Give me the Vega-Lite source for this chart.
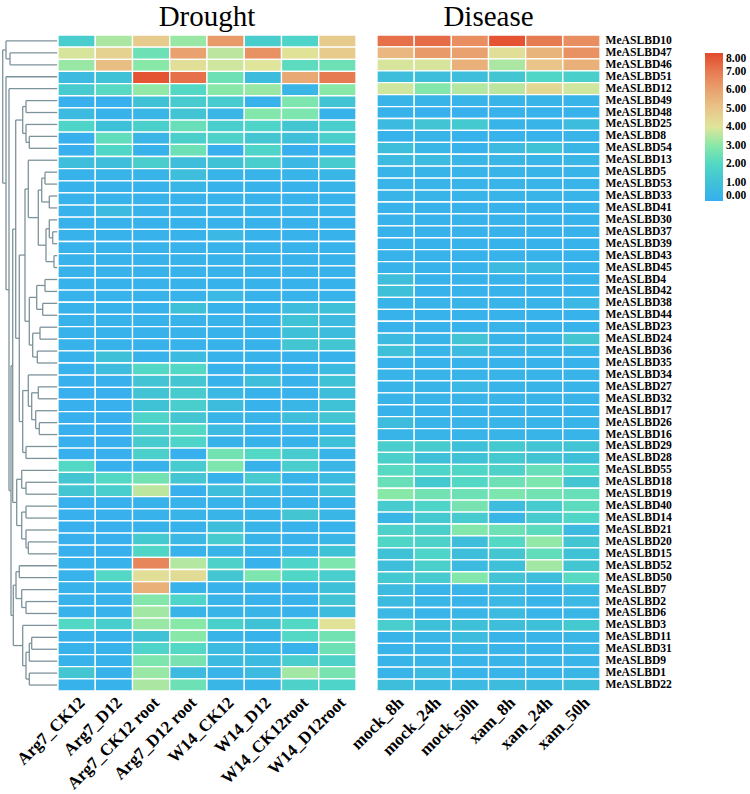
{
 "$schema": "https://vega.github.io/schema/vega-lite/v6.json",
 "padding": {"left": 0, "top": 3, "right": 0, "bottom": 0},
 "background": "white",
 "config": {
  "view": {"stroke": null},
  "font": "Liberation Serif",
  "title": {"font": "Liberation Serif", "fontSize": 29, "fontWeight": "normal", "color": "#000000", "offset": 2},
  "axis": {"labelFont": "Liberation Serif", "labelFontWeight": "bold", "labelColor": "#000000", "ticks": false, "domain": false, "grid": false, "title": null},
  "legend": {"labelFont": "Liberation Serif", "labelFontWeight": "bold", "labelColor": "#000000"}
 },
 "datasets": {
  "tree": [
   {"x":10,"x2":57.5,"y":1,"y2":1},{"x":10,"x2":57.5,"y":2,"y2":2},{"x":10,"x2":10,"y":1,"y2":2},
   {"x":6,"x2":57.5,"y":0,"y2":0},{"x":6,"x2":10,"y":1.5,"y2":1.5},{"x":6,"x2":6,"y":0,"y2":1.5},
   {"x":26,"x2":57.5,"y":5,"y2":5},{"x":26,"x2":57.5,"y":6,"y2":6},{"x":26,"x2":26,"y":5,"y2":6},
   {"x":29.3,"x2":57.5,"y":8,"y2":8},{"x":29.3,"x2":57.5,"y":9,"y2":9},{"x":29.3,"x2":29.3,"y":8,"y2":9},
   {"x":26,"x2":57.5,"y":7,"y2":7},{"x":26,"x2":29.3,"y":8.5,"y2":8.5},{"x":26,"x2":26,"y":7,"y2":8.5},
   {"x":22.7,"x2":26,"y":5.5,"y2":5.5},{"x":22.7,"x2":26,"y":7.75,"y2":7.75},{"x":22.7,"x2":22.7,"y":5.5,"y2":7.75},
   {"x":45,"x2":57.5,"y":11,"y2":11},{"x":45,"x2":57.5,"y":12,"y2":12},{"x":45,"x2":45,"y":11,"y2":12},
   {"x":49.3,"x2":57.5,"y":13,"y2":13},{"x":49.3,"x2":57.5,"y":14,"y2":14},{"x":49.3,"x2":49.3,"y":13,"y2":14},
   {"x":41.7,"x2":45,"y":11.5,"y2":11.5},{"x":41.7,"x2":49.3,"y":13.5,"y2":13.5},{"x":41.7,"x2":41.7,"y":11.5,"y2":13.5},
   {"x":52.7,"x2":57.5,"y":16,"y2":16},{"x":52.7,"x2":57.5,"y":17,"y2":17},{"x":52.7,"x2":52.7,"y":16,"y2":17},
   {"x":49.3,"x2":57.5,"y":15,"y2":15},{"x":49.3,"x2":52.7,"y":16.5,"y2":16.5},{"x":49.3,"x2":49.3,"y":15,"y2":16.5},
   {"x":54,"x2":57.5,"y":18,"y2":18},{"x":54,"x2":57.5,"y":19,"y2":19},{"x":54,"x2":54,"y":18,"y2":19},
   {"x":46,"x2":49.3,"y":15.75,"y2":15.75},{"x":46,"x2":54,"y":18.5,"y2":18.5},{"x":46,"x2":46,"y":15.75,"y2":18.5},
   {"x":38.3,"x2":41.7,"y":12.5,"y2":12.5},{"x":38.3,"x2":46,"y":17.125,"y2":17.125},{"x":38.3,"x2":38.3,"y":12.5,"y2":17.125},
   {"x":28.3,"x2":57.5,"y":10,"y2":10},{"x":28.3,"x2":38.3,"y":14.81,"y2":14.81},{"x":28.3,"x2":28.3,"y":10,"y2":14.81},
   {"x":45,"x2":57.5,"y":20,"y2":20},{"x":45,"x2":57.5,"y":21,"y2":21},{"x":45,"x2":45,"y":20,"y2":21},
   {"x":42.7,"x2":57.5,"y":22,"y2":22},{"x":42.7,"x2":57.5,"y":23,"y2":23},{"x":42.7,"x2":42.7,"y":22,"y2":23},
   {"x":36.7,"x2":45,"y":20.5,"y2":20.5},{"x":36.7,"x2":42.7,"y":22.5,"y2":22.5},{"x":36.7,"x2":36.7,"y":20.5,"y2":22.5},
   {"x":40,"x2":57.5,"y":24,"y2":24},{"x":40,"x2":57.5,"y":25,"y2":25},{"x":40,"x2":40,"y":24,"y2":25},
   {"x":37.3,"x2":57.5,"y":26,"y2":26},{"x":37.3,"x2":57.5,"y":27,"y2":27},{"x":37.3,"x2":37.3,"y":26,"y2":27},
   {"x":32.7,"x2":40,"y":24.5,"y2":24.5},{"x":32.7,"x2":37.3,"y":26.5,"y2":26.5},{"x":32.7,"x2":32.7,"y":24.5,"y2":26.5},
   {"x":29.3,"x2":36.7,"y":21.5,"y2":21.5},{"x":29.3,"x2":32.7,"y":25.5,"y2":25.5},{"x":29.3,"x2":29.3,"y":21.5,"y2":25.5},
   {"x":25,"x2":28.3,"y":12.41,"y2":12.41},{"x":25,"x2":29.3,"y":23.5,"y2":23.5},{"x":25,"x2":25,"y":12.41,"y2":23.5},
   {"x":38.3,"x2":57.5,"y":29,"y2":29},{"x":38.3,"x2":57.5,"y":30,"y2":30},{"x":38.3,"x2":38.3,"y":29,"y2":30},
   {"x":39.3,"x2":57.5,"y":32,"y2":32},{"x":39.3,"x2":57.5,"y":33,"y2":33},{"x":39.3,"x2":39.3,"y":32,"y2":33},
   {"x":35.7,"x2":57.5,"y":31,"y2":31},{"x":35.7,"x2":39.3,"y":32.5,"y2":32.5},{"x":35.7,"x2":35.7,"y":31,"y2":32.5},
   {"x":31.7,"x2":38.3,"y":29.5,"y2":29.5},{"x":31.7,"x2":35.7,"y":31.75,"y2":31.75},{"x":31.7,"x2":31.7,"y":29.5,"y2":31.75},
   {"x":28.3,"x2":57.5,"y":28,"y2":28},{"x":28.3,"x2":31.7,"y":30.63,"y2":30.63},{"x":28.3,"x2":28.3,"y":28,"y2":30.63},
   {"x":26,"x2":57.5,"y":34,"y2":34},{"x":26,"x2":57.5,"y":35,"y2":35},{"x":26,"x2":26,"y":34,"y2":35},
   {"x":22.7,"x2":28.3,"y":29.31,"y2":29.31},{"x":22.7,"x2":26,"y":34.5,"y2":34.5},{"x":22.7,"x2":22.7,"y":29.31,"y2":34.5},
   {"x":19.3,"x2":25,"y":17.95,"y2":17.95},{"x":19.3,"x2":22.7,"y":31.91,"y2":31.91},{"x":19.3,"x2":19.3,"y":17.95,"y2":31.91},
   {"x":15.7,"x2":22.7,"y":6.63,"y2":6.63},{"x":15.7,"x2":19.3,"y":24.93,"y2":24.93},{"x":15.7,"x2":15.7,"y":6.63,"y2":24.93},
   {"x":26,"x2":57.5,"y":37,"y2":37},{"x":26,"x2":57.5,"y":38,"y2":38},{"x":26,"x2":26,"y":37,"y2":38},
   {"x":21.7,"x2":57.5,"y":36,"y2":36},{"x":21.7,"x2":26,"y":37.5,"y2":37.5},{"x":21.7,"x2":21.7,"y":36,"y2":37.5},
   {"x":26,"x2":57.5,"y":39,"y2":39},{"x":26,"x2":57.5,"y":40,"y2":40},{"x":26,"x2":26,"y":39,"y2":40},
   {"x":28.3,"x2":57.5,"y":42,"y2":42},{"x":28.3,"x2":57.5,"y":43,"y2":43},{"x":28.3,"x2":28.3,"y":42,"y2":43},
   {"x":26,"x2":57.5,"y":41,"y2":41},{"x":26,"x2":28.3,"y":42.5,"y2":42.5},{"x":26,"x2":26,"y":41,"y2":42.5},
   {"x":21.7,"x2":26,"y":39.5,"y2":39.5},{"x":21.7,"x2":26,"y":41.75,"y2":41.75},{"x":21.7,"x2":21.7,"y":39.5,"y2":41.75},
   {"x":16.7,"x2":21.7,"y":36.75,"y2":36.75},{"x":16.7,"x2":21.7,"y":40.63,"y2":40.63},{"x":16.7,"x2":16.7,"y":36.75,"y2":40.63},
   {"x":12.7,"x2":15.7,"y":15.78,"y2":15.78},{"x":12.7,"x2":16.7,"y":38.69,"y2":38.69},{"x":12.7,"x2":12.7,"y":15.78,"y2":38.69},
   {"x":19.3,"x2":57.5,"y":44,"y2":44},{"x":19.3,"x2":57.5,"y":45,"y2":45},{"x":19.3,"x2":19.3,"y":44,"y2":45},
   {"x":26,"x2":57.5,"y":47,"y2":47},{"x":26,"x2":57.5,"y":48,"y2":48},{"x":26,"x2":26,"y":47,"y2":48},
   {"x":21.7,"x2":57.5,"y":46,"y2":46},{"x":21.7,"x2":26,"y":47.5,"y2":47.5},{"x":21.7,"x2":21.7,"y":46,"y2":47.5},
   {"x":16,"x2":19.3,"y":44.5,"y2":44.5},{"x":16,"x2":21.7,"y":46.75,"y2":46.75},{"x":16,"x2":16,"y":44.5,"y2":46.75},
   {"x":31.7,"x2":57.5,"y":50,"y2":50},{"x":31.7,"x2":57.5,"y":51,"y2":51},{"x":31.7,"x2":31.7,"y":50,"y2":51},
   {"x":29.3,"x2":31.7,"y":50.5,"y2":50.5},{"x":29.3,"x2":57.5,"y":52,"y2":52},{"x":29.3,"x2":29.3,"y":50.5,"y2":52},
   {"x":29.3,"x2":57.5,"y":53,"y2":53},{"x":29.3,"x2":57.5,"y":54,"y2":54},{"x":29.3,"x2":29.3,"y":53,"y2":54},
   {"x":26,"x2":29.3,"y":51.25,"y2":51.25},{"x":26,"x2":29.3,"y":53.5,"y2":53.5},{"x":26,"x2":26,"y":51.25,"y2":53.5},
   {"x":22.7,"x2":57.5,"y":49,"y2":49},{"x":22.7,"x2":26,"y":52.38,"y2":52.38},{"x":22.7,"x2":22.7,"y":49,"y2":52.38},
   {"x":13.3,"x2":16,"y":45.63,"y2":45.63},{"x":13.3,"x2":22.7,"y":50.69,"y2":50.69},{"x":13.3,"x2":13.3,"y":45.63,"y2":50.69},
   {"x":11,"x2":12.7,"y":27.23,"y2":27.23},{"x":11,"x2":13.3,"y":48.16,"y2":48.16},{"x":11,"x2":11,"y":27.23,"y2":48.16},
   {"x":9,"x2":57.5,"y":4,"y2":4},{"x":9,"x2":11,"y":37.7,"y2":37.7},{"x":9,"x2":9,"y":4,"y2":37.7},
   {"x":6,"x2":57.5,"y":3,"y2":3},{"x":6,"x2":9,"y":20.85,"y2":20.85},{"x":6,"x2":6,"y":3,"y2":20.85},
   {"x":2.7,"x2":6,"y":0.75,"y2":0.75},{"x":2.7,"x2":6,"y":11.92,"y2":11.92},{"x":2.7,"x2":2.7,"y":0.75,"y2":11.92}
  ],
  "expr": [
   {"g":"MeASLBD10","Arg7_CK12":1.5,"Arg7_D12":3.4,"Arg7_CK12 root":4.8,"Arg7_D12 root":3.2,"W14_CK12":6.2,"W14_D12":1.5,"W14_CK12root":1.8,"W14_D12root":4.8,"mock_8h":7.2,"mock_24h":7.3,"mock_50h":6.5,"xam_8h":7.8,"xam_24h":7.0,"xam_50h":6.5},
   {"g":"MeASLBD47","Arg7_CK12":3.9,"Arg7_D12":4.6,"Arg7_CK12 root":2.5,"Arg7_D12 root":6.0,"W14_CK12":3.6,"W14_D12":6.4,"W14_CK12root":4.1,"W14_D12root":4.8,"mock_8h":5.4,"mock_24h":6.2,"mock_50h":6.0,"xam_8h":4.2,"xam_24h":5.5,"xam_50h":6.4},
   {"g":"MeASLBD46","Arg7_CK12":3.2,"Arg7_D12":5.2,"Arg7_CK12 root":3.0,"Arg7_D12 root":4.2,"W14_CK12":3.8,"W14_D12":4.0,"W14_CK12root":2.2,"W14_D12root":2.5,"mock_8h":3.9,"mock_24h":3.9,"mock_50h":5.6,"xam_8h":3.4,"xam_24h":5.0,"xam_50h":5.6},
   {"g":"MeASLBD51","Arg7_CK12":0.6,"Arg7_D12":1.0,"Arg7_CK12 root":7.8,"Arg7_D12 root":7.2,"W14_CK12":2.5,"W14_D12":0.7,"W14_CK12root":5.8,"W14_D12root":7.0,"mock_8h":0.8,"mock_24h":0.8,"mock_50h":0.8,"xam_8h":1.2,"xam_24h":1.9,"xam_50h":1.6},
   {"g":"MeASLBD12","Arg7_CK12":1.4,"Arg7_D12":2.1,"Arg7_CK12 root":3.1,"Arg7_D12 root":2.0,"W14_CK12":3.0,"W14_D12":3.2,"W14_CK12root":0.4,"W14_D12root":3.0,"mock_8h":3.8,"mock_24h":2.9,"mock_50h":3.5,"xam_8h":3.6,"xam_24h":4.4,"xam_50h":3.8},
   {"g":"MeASLBD49","Arg7_CK12":0.1,"Arg7_D12":0.1,"Arg7_CK12 root":1.0,"Arg7_D12 root":1.4,"W14_CK12":1.4,"W14_D12":0.2,"W14_CK12root":2.8,"W14_D12root":1.1,"mock_8h":0.3,"mock_24h":0.3,"mock_50h":0.3,"xam_8h":0.3,"xam_24h":0.3,"xam_50h":0.3},
   {"g":"MeASLBD48","Arg7_CK12":0.6,"Arg7_D12":0.2,"Arg7_CK12 root":0.4,"Arg7_D12 root":1.1,"W14_CK12":0.4,"W14_D12":2.9,"W14_CK12root":2.8,"W14_D12root":0.2,"mock_8h":0.2,"mock_24h":0.1,"mock_50h":0.1,"xam_8h":0.2,"xam_24h":0.2,"xam_50h":0.2},
   {"g":"MeASLBD25","Arg7_CK12":1.8,"Arg7_D12":0.9,"Arg7_CK12 root":1.6,"Arg7_D12 root":2.4,"W14_CK12":1.5,"W14_D12":1.8,"W14_CK12root":1.2,"W14_D12root":1.5,"mock_8h":0.6,"mock_24h":1.1,"mock_50h":1.3,"xam_8h":0.3,"xam_24h":0.3,"xam_50h":0.7},
   {"g":"MeASLBD8","Arg7_CK12":0.1,"Arg7_D12":2.3,"Arg7_CK12 root":0.4,"Arg7_D12 root":1.6,"W14_CK12":1.7,"W14_D12":1.2,"W14_CK12root":0.9,"W14_D12root":1.6,"mock_8h":0.2,"mock_24h":0.3,"mock_50h":0.2,"xam_8h":0.2,"xam_24h":0.2,"xam_50h":0.3},
   {"g":"MeASLBD54","Arg7_CK12":0.1,"Arg7_D12":1.9,"Arg7_CK12 root":0.2,"Arg7_D12 root":2.5,"W14_CK12":0.1,"W14_D12":1.8,"W14_CK12root":0.1,"W14_D12root":0.2,"mock_8h":0.8,"mock_24h":0.4,"mock_50h":0.2,"xam_8h":0.6,"xam_24h":1.0,"xam_50h":0.4},
   {"g":"MeASLBD13","Arg7_CK12":0.8,"Arg7_D12":0.8,"Arg7_CK12 root":1.5,"Arg7_D12 root":0.8,"W14_CK12":1.0,"W14_D12":1.5,"W14_CK12root":0.5,"W14_D12root":1.4,"mock_8h":0.6,"mock_24h":0.6,"mock_50h":0.4,"xam_8h":0.4,"xam_24h":0.3,"xam_50h":0.4},
   {"g":"MeASLBD5","Arg7_CK12":0.2,"Arg7_D12":0.3,"Arg7_CK12 root":0.3,"Arg7_D12 root":0.8,"W14_CK12":0.3,"W14_D12":0.3,"W14_CK12root":0.3,"W14_D12root":0.4,"mock_8h":0.3,"mock_24h":0.3,"mock_50h":0.3,"xam_8h":0.3,"xam_24h":0.3,"xam_50h":0.3},
   {"g":"MeASLBD53","Arg7_CK12":0.2,"Arg7_D12":0.2,"Arg7_CK12 root":0.2,"Arg7_D12 root":0.4,"W14_CK12":0.2,"W14_D12":0.2,"W14_CK12root":0.2,"W14_D12root":0.3,"mock_8h":0.3,"mock_24h":0.3,"mock_50h":0.3,"xam_8h":0.3,"xam_24h":0.3,"xam_50h":0.3},
   {"g":"MeASLBD33","Arg7_CK12":0.2,"Arg7_D12":0.2,"Arg7_CK12 root":0.2,"Arg7_D12 root":0.2,"W14_CK12":0.2,"W14_D12":0.2,"W14_CK12root":0.2,"W14_D12root":0.2,"mock_8h":0.3,"mock_24h":0.3,"mock_50h":0.3,"xam_8h":0.3,"xam_24h":0.3,"xam_50h":0.3},
   {"g":"MeASLBD41","Arg7_CK12":0.2,"Arg7_D12":0.6,"Arg7_CK12 root":0.2,"Arg7_D12 root":0.2,"W14_CK12":0.2,"W14_D12":0.2,"W14_CK12root":0.2,"W14_D12root":0.2,"mock_8h":0.2,"mock_24h":0.2,"mock_50h":0.2,"xam_8h":0.2,"xam_24h":0.2,"xam_50h":0.2},
   {"g":"MeASLBD30","Arg7_CK12":0.2,"Arg7_D12":0.2,"Arg7_CK12 root":0.2,"Arg7_D12 root":0.2,"W14_CK12":0.2,"W14_D12":0.2,"W14_CK12root":0.2,"W14_D12root":0.2,"mock_8h":0.2,"mock_24h":0.2,"mock_50h":0.2,"xam_8h":0.2,"xam_24h":0.2,"xam_50h":0.2},
   {"g":"MeASLBD37","Arg7_CK12":0.2,"Arg7_D12":0.2,"Arg7_CK12 root":0.2,"Arg7_D12 root":0.2,"W14_CK12":0.5,"W14_D12":0.2,"W14_CK12root":0.2,"W14_D12root":0.2,"mock_8h":0.2,"mock_24h":0.2,"mock_50h":0.2,"xam_8h":0.2,"xam_24h":0.2,"xam_50h":0.2},
   {"g":"MeASLBD39","Arg7_CK12":0.2,"Arg7_D12":0.2,"Arg7_CK12 root":0.2,"Arg7_D12 root":0.2,"W14_CK12":0.2,"W14_D12":0.2,"W14_CK12root":0.2,"W14_D12root":0.2,"mock_8h":0.2,"mock_24h":0.2,"mock_50h":0.2,"xam_8h":0.2,"xam_24h":0.2,"xam_50h":0.2},
   {"g":"MeASLBD43","Arg7_CK12":0.2,"Arg7_D12":0.2,"Arg7_CK12 root":0.2,"Arg7_D12 root":0.2,"W14_CK12":0.2,"W14_D12":0.2,"W14_CK12root":0.2,"W14_D12root":0.2,"mock_8h":0.2,"mock_24h":0.2,"mock_50h":0.2,"xam_8h":0.2,"xam_24h":0.2,"xam_50h":0.2},
   {"g":"MeASLBD45","Arg7_CK12":0.2,"Arg7_D12":0.2,"Arg7_CK12 root":0.2,"Arg7_D12 root":0.2,"W14_CK12":0.2,"W14_D12":0.2,"W14_CK12root":0.2,"W14_D12root":0.2,"mock_8h":0.2,"mock_24h":0.2,"mock_50h":0.2,"xam_8h":0.6,"xam_24h":0.6,"xam_50h":0.2},
   {"g":"MeASLBD4","Arg7_CK12":0.2,"Arg7_D12":0.2,"Arg7_CK12 root":0.2,"Arg7_D12 root":0.2,"W14_CK12":0.2,"W14_D12":0.2,"W14_CK12root":0.2,"W14_D12root":0.2,"mock_8h":0.8,"mock_24h":0.2,"mock_50h":0.2,"xam_8h":0.2,"xam_24h":0.2,"xam_50h":0.2},
   {"g":"MeASLBD42","Arg7_CK12":0.2,"Arg7_D12":0.2,"Arg7_CK12 root":0.2,"Arg7_D12 root":0.2,"W14_CK12":0.5,"W14_D12":0.2,"W14_CK12root":0.2,"W14_D12root":0.2,"mock_8h":0.9,"mock_24h":0.2,"mock_50h":0.2,"xam_8h":0.2,"xam_24h":0.2,"xam_50h":0.2},
   {"g":"MeASLBD38","Arg7_CK12":0.2,"Arg7_D12":0.2,"Arg7_CK12 root":0.2,"Arg7_D12 root":0.9,"W14_CK12":0.2,"W14_D12":0.2,"W14_CK12root":0.7,"W14_D12root":0.9,"mock_8h":0.3,"mock_24h":0.3,"mock_50h":0.3,"xam_8h":0.3,"xam_24h":0.3,"xam_50h":0.5},
   {"g":"MeASLBD44","Arg7_CK12":0.2,"Arg7_D12":0.2,"Arg7_CK12 root":0.2,"Arg7_D12 root":0.2,"W14_CK12":0.2,"W14_D12":0.2,"W14_CK12root":1.0,"W14_D12root":0.6,"mock_8h":0.2,"mock_24h":0.2,"mock_50h":0.2,"xam_8h":0.2,"xam_24h":0.2,"xam_50h":0.2},
   {"g":"MeASLBD23","Arg7_CK12":0.2,"Arg7_D12":0.2,"Arg7_CK12 root":0.2,"Arg7_D12 root":0.2,"W14_CK12":0.2,"W14_D12":0.2,"W14_CK12root":0.9,"W14_D12root":0.7,"mock_8h":0.2,"mock_24h":0.2,"mock_50h":0.2,"xam_8h":0.3,"xam_24h":0.2,"xam_50h":0.2},
   {"g":"MeASLBD24","Arg7_CK12":0.2,"Arg7_D12":0.2,"Arg7_CK12 root":0.2,"Arg7_D12 root":0.2,"W14_CK12":0.2,"W14_D12":0.2,"W14_CK12root":1.2,"W14_D12root":1.2,"mock_8h":0.6,"mock_24h":0.3,"mock_50h":1.1,"xam_8h":0.3,"xam_24h":0.3,"xam_50h":1.2},
   {"g":"MeASLBD36","Arg7_CK12":0.2,"Arg7_D12":0.9,"Arg7_CK12 root":0.2,"Arg7_D12 root":0.6,"W14_CK12":0.2,"W14_D12":0.2,"W14_CK12root":0.2,"W14_D12root":0.2,"mock_8h":0.9,"mock_24h":0.3,"mock_50h":0.6,"xam_8h":0.3,"xam_24h":0.3,"xam_50h":0.3},
   {"g":"MeASLBD35","Arg7_CK12":0.2,"Arg7_D12":0.7,"Arg7_CK12 root":2.0,"Arg7_D12 root":2.0,"W14_CK12":0.2,"W14_D12":0.2,"W14_CK12root":0.2,"W14_D12root":0.6,"mock_8h":0.2,"mock_24h":0.2,"mock_50h":0.2,"xam_8h":0.2,"xam_24h":0.2,"xam_50h":0.2},
   {"g":"MeASLBD34","Arg7_CK12":0.1,"Arg7_D12":0.1,"Arg7_CK12 root":1.1,"Arg7_D12 root":1.2,"W14_CK12":0.2,"W14_D12":0.8,"W14_CK12root":0.2,"W14_D12root":1.0,"mock_8h":0.3,"mock_24h":0.3,"mock_50h":0.3,"xam_8h":0.3,"xam_24h":0.3,"xam_50h":0.3},
   {"g":"MeASLBD27","Arg7_CK12":0.1,"Arg7_D12":0.1,"Arg7_CK12 root":1.1,"Arg7_D12 root":1.4,"W14_CK12":0.5,"W14_D12":0.2,"W14_CK12root":0.2,"W14_D12root":0.8,"mock_8h":0.3,"mock_24h":0.3,"mock_50h":0.5,"xam_8h":0.3,"xam_24h":0.3,"xam_50h":0.3},
   {"g":"MeASLBD32","Arg7_CK12":0.1,"Arg7_D12":0.1,"Arg7_CK12 root":1.0,"Arg7_D12 root":1.5,"W14_CK12":0.7,"W14_D12":0.2,"W14_CK12root":0.4,"W14_D12root":1.0,"mock_8h":0.3,"mock_24h":0.3,"mock_50h":0.3,"xam_8h":0.3,"xam_24h":0.3,"xam_50h":0.3},
   {"g":"MeASLBD17","Arg7_CK12":0.1,"Arg7_D12":0.1,"Arg7_CK12 root":1.8,"Arg7_D12 root":1.2,"W14_CK12":0.3,"W14_D12":0.3,"W14_CK12root":0.8,"W14_D12root":1.2,"mock_8h":0.2,"mock_24h":0.2,"mock_50h":0.2,"xam_8h":0.2,"xam_24h":0.2,"xam_50h":0.2},
   {"g":"MeASLBD26","Arg7_CK12":0.1,"Arg7_D12":0.1,"Arg7_CK12 root":1.5,"Arg7_D12 root":2.0,"W14_CK12":0.6,"W14_D12":0.2,"W14_CK12root":0.2,"W14_D12root":0.3,"mock_8h":0.7,"mock_24h":0.3,"mock_50h":0.3,"xam_8h":0.3,"xam_24h":0.3,"xam_50h":0.3},
   {"g":"MeASLBD16","Arg7_CK12":0.1,"Arg7_D12":0.1,"Arg7_CK12 root":1.4,"Arg7_D12 root":1.8,"W14_CK12":0.2,"W14_D12":0.2,"W14_CK12root":0.2,"W14_D12root":0.9,"mock_8h":0.3,"mock_24h":0.3,"mock_50h":0.3,"xam_8h":0.3,"xam_24h":0.3,"xam_50h":0.3},
   {"g":"MeASLBD29","Arg7_CK12":0.1,"Arg7_D12":0.1,"Arg7_CK12 root":1.6,"Arg7_D12 root":0.1,"W14_CK12":2.6,"W14_D12":2.0,"W14_CK12root":1.4,"W14_D12root":0.3,"mock_8h":1.5,"mock_24h":1.4,"mock_50h":0.9,"xam_8h":1.3,"xam_24h":1.1,"xam_50h":1.1},
   {"g":"MeASLBD28","Arg7_CK12":2.0,"Arg7_D12":0.1,"Arg7_CK12 root":0.2,"Arg7_D12 root":1.4,"W14_CK12":2.8,"W14_D12":0.2,"W14_CK12root":1.5,"W14_D12root":0.4,"mock_8h":1.6,"mock_24h":0.9,"mock_50h":1.0,"xam_8h":1.3,"xam_24h":1.1,"xam_50h":0.9},
   {"g":"MeASLBD55","Arg7_CK12":1.2,"Arg7_D12":2.0,"Arg7_CK12 root":2.6,"Arg7_D12 root":1.2,"W14_CK12":0.2,"W14_D12":1.4,"W14_CK12root":0.3,"W14_D12root":0.6,"mock_8h":2.1,"mock_24h":1.8,"mock_50h":1.9,"xam_8h":1.7,"xam_24h":2.4,"xam_50h":1.9},
   {"g":"MeASLBD18","Arg7_CK12":1.2,"Arg7_D12":1.5,"Arg7_CK12 root":3.6,"Arg7_D12 root":0.1,"W14_CK12":0.8,"W14_D12":0.5,"W14_CK12root":0.3,"W14_D12root":0.9,"mock_8h":2.4,"mock_24h":1.3,"mock_50h":2.0,"xam_8h":2.5,"xam_24h":2.8,"xam_50h":1.2},
   {"g":"MeASLBD19","Arg7_CK12":null,"Arg7_D12":null,"Arg7_CK12 root":null,"Arg7_D12 root":null,"W14_CK12":null,"W14_D12":null,"W14_CK12root":null,"W14_D12root":null,"mock_8h":3.0,"mock_24h":2.6,"mock_50h":2.5,"xam_8h":2.8,"xam_24h":2.6,"xam_50h":2.4},
   {"g":"MeASLBD40","Arg7_CK12":0.1,"Arg7_D12":0.1,"Arg7_CK12 root":0.2,"Arg7_D12 root":0.2,"W14_CK12":0.2,"W14_D12":0.2,"W14_CK12root":0.2,"W14_D12root":0.2,"mock_8h":1.4,"mock_24h":1.8,"mock_50h":2.7,"xam_8h":0.7,"xam_24h":1.4,"xam_50h":2.2},
   {"g":"MeASLBD14","Arg7_CK12":0.1,"Arg7_D12":0.1,"Arg7_CK12 root":0.2,"Arg7_D12 root":0.3,"W14_CK12":0.3,"W14_D12":0.3,"W14_CK12root":1.2,"W14_D12root":0.4,"mock_8h":0.4,"mock_24h":1.3,"mock_50h":1.4,"xam_8h":0.4,"xam_24h":1.4,"xam_50h":1.9},
   {"g":"MeASLBD21","Arg7_CK12":0.1,"Arg7_D12":0.1,"Arg7_CK12 root":0.2,"Arg7_D12 root":0.2,"W14_CK12":0.8,"W14_D12":0.3,"W14_CK12root":0.2,"W14_D12root":0.2,"mock_8h":1.7,"mock_24h":1.6,"mock_50h":2.9,"xam_8h":2.5,"xam_24h":2.2,"xam_50h":0.6},
   {"g":"MeASLBD20","Arg7_CK12":0.1,"Arg7_D12":0.1,"Arg7_CK12 root":1.3,"Arg7_D12 root":0.5,"W14_CK12":1.4,"W14_D12":0.3,"W14_CK12root":0.2,"W14_D12root":0.4,"mock_8h":1.9,"mock_24h":1.7,"mock_50h":0.8,"xam_8h":2.0,"xam_24h":3.1,"xam_50h":1.2},
   {"g":"MeASLBD15","Arg7_CK12":0.1,"Arg7_D12":0.1,"Arg7_CK12 root":1.9,"Arg7_D12 root":0.2,"W14_CK12":0.3,"W14_D12":0.3,"W14_CK12root":0.3,"W14_D12root":1.0,"mock_8h":1.0,"mock_24h":1.8,"mock_50h":0.8,"xam_8h":1.2,"xam_24h":2.3,"xam_50h":1.0},
   {"g":"MeASLBD52","Arg7_CK12":0.2,"Arg7_D12":0.2,"Arg7_CK12 root":6.7,"Arg7_D12 root":3.5,"W14_CK12":1.7,"W14_D12":0.2,"W14_CK12root":1.8,"W14_D12root":2.8,"mock_8h":0.8,"mock_24h":1.6,"mock_50h":0.6,"xam_8h":0.9,"xam_24h":3.3,"xam_50h":1.2},
   {"g":"MeASLBD50","Arg7_CK12":0.2,"Arg7_D12":2.0,"Arg7_CK12 root":4.2,"Arg7_D12 root":4.3,"W14_CK12":1.2,"W14_D12":2.8,"W14_CK12root":1.9,"W14_D12root":1.5,"mock_8h":1.3,"mock_24h":1.4,"mock_50h":2.9,"xam_8h":1.1,"xam_24h":0.8,"xam_50h":2.1},
   {"g":"MeASLBD7","Arg7_CK12":0.2,"Arg7_D12":0.2,"Arg7_CK12 root":5.6,"Arg7_D12 root":0.2,"W14_CK12":0.2,"W14_D12":0.2,"W14_CK12root":0.2,"W14_D12root":0.9,"mock_8h":0.6,"mock_24h":0.3,"mock_50h":0.3,"xam_8h":0.5,"xam_24h":0.3,"xam_50h":0.5},
   {"g":"MeASLBD2","Arg7_CK12":0.2,"Arg7_D12":0.2,"Arg7_CK12 root":2.9,"Arg7_D12 root":1.8,"W14_CK12":0.3,"W14_D12":0.2,"W14_CK12root":0.2,"W14_D12root":1.1,"mock_8h":0.6,"mock_24h":0.4,"mock_50h":0.3,"xam_8h":0.5,"xam_24h":0.3,"xam_50h":0.5},
   {"g":"MeASLBD6","Arg7_CK12":0.2,"Arg7_D12":0.2,"Arg7_CK12 root":3.3,"Arg7_D12 root":0.3,"W14_CK12":0.3,"W14_D12":0.3,"W14_CK12root":0.2,"W14_D12root":0.7,"mock_8h":0.5,"mock_24h":0.3,"mock_50h":0.4,"xam_8h":0.6,"xam_24h":0.3,"xam_50h":0.4},
   {"g":"MeASLBD3","Arg7_CK12":2.0,"Arg7_D12":1.5,"Arg7_CK12 root":3.2,"Arg7_D12 root":3.0,"W14_CK12":1.6,"W14_D12":1.0,"W14_CK12root":2.0,"W14_D12root":4.1,"mock_8h":1.5,"mock_24h":0.9,"mock_50h":0.9,"xam_8h":0.8,"xam_24h":0.9,"xam_50h":1.3},
   {"g":"MeASLBD11","Arg7_CK12":0.2,"Arg7_D12":0.2,"Arg7_CK12 root":1.0,"Arg7_D12 root":3.0,"W14_CK12":0.3,"W14_D12":0.2,"W14_CK12root":2.0,"W14_D12root":2.6,"mock_8h":0.3,"mock_24h":0.4,"mock_50h":0.7,"xam_8h":0.3,"xam_24h":0.3,"xam_50h":0.4},
   {"g":"MeASLBD31","Arg7_CK12":0.2,"Arg7_D12":0.2,"Arg7_CK12 root":1.8,"Arg7_D12 root":2.0,"W14_CK12":0.6,"W14_D12":0.4,"W14_CK12root":0.2,"W14_D12root":2.5,"mock_8h":0.3,"mock_24h":0.3,"mock_50h":0.4,"xam_8h":0.3,"xam_24h":0.3,"xam_50h":0.4},
   {"g":"MeASLBD9","Arg7_CK12":0.2,"Arg7_D12":0.2,"Arg7_CK12 root":2.8,"Arg7_D12 root":2.7,"W14_CK12":0.6,"W14_D12":0.6,"W14_CK12root":1.5,"W14_D12root":1.7,"mock_8h":0.3,"mock_24h":0.3,"mock_50h":0.3,"xam_8h":0.3,"xam_24h":0.3,"xam_50h":0.3},
   {"g":"MeASLBD1","Arg7_CK12":1.2,"Arg7_D12":0.2,"Arg7_CK12 root":3.2,"Arg7_D12 root":0.6,"W14_CK12":0.3,"W14_D12":0.6,"W14_CK12root":3.3,"W14_D12root":2.7,"mock_8h":0.3,"mock_24h":0.6,"mock_50h":0.3,"xam_8h":0.3,"xam_24h":0.3,"xam_50h":0.4},
   {"g":"MeASLBD22","Arg7_CK12":0.2,"Arg7_D12":0.2,"Arg7_CK12 root":3.4,"Arg7_D12 root":2.5,"W14_CK12":0.4,"W14_D12":0.3,"W14_CK12root":1.7,"W14_D12root":1.8,"mock_8h":0.8,"mock_24h":0.6,"mock_50h":0.6,"xam_8h":0.7,"xam_24h":0.6,"xam_50h":0.8}
  ]
 },
 "bounds": "flush",
 "spacing": 0,
 "resolve": {"scale": {"color": "shared"}, "legend": {"color": "shared"}},
 "hconcat": [
  {
   "width": 58,
   "height": 656,
   "data": {"name": "tree"},
   "mark": {"type": "rule", "color": "#7d939b", "strokeWidth": 1.3},
   "encoding": {
    "x": {"field": "x", "type": "quantitative", "scale": {"domain": [0, 58], "nice": false, "zero": false}, "axis": null},
    "x2": {"field": "x2"},
    "y": {"field": "y", "type": "quantitative", "scale": {"domain": [-0.5, 54.5], "reverse": true, "nice": false, "zero": false}, "axis": null},
    "y2": {"field": "y2"}
   }
  },
  {
   "bounds": "flush",
   "spacing": 21,
   "resolve": {"scale": {"color": "shared"}, "legend": {"color": "shared"}},
   "hconcat": [
    {
     "width": 298,
     "height": 656,
     "title": {"text": "Drought"},
     "data": {"name": "expr"},
     "transform": [{"fold": ["Arg7_CK12", "Arg7_D12", "Arg7_CK12 root", "Arg7_D12 root", "W14_CK12", "W14_D12", "W14_CK12root", "W14_D12root"], "as": ["cond", "v"]}],
     "mark": {"type": "rect", "stroke": "#ffffff", "strokeWidth": 1.3},
     "encoding": {
      "x": {"field": "cond", "type": "nominal", "sort": null, "scale": {"paddingInner": 0, "paddingOuter": 0}, "axis": {"labelAngle": -45, "labelAlign": "right", "labelBaseline": "top", "labelFontSize": 17, "labelPadding": 3}},
      "y": {"field": "g", "type": "nominal", "sort": null, "scale": {"paddingInner": 0, "paddingOuter": 0}, "axis": null},
      "color": {
       "condition": {"test": "!isValid(datum.v)", "value": "#6f8088"},
       "field": "v", "type": "quantitative",
       "scale": {"domain": [0, 1, 2, 3, 4, 5, 6, 7, 8], "range": ["#36aef0", "#40c2d6", "#52d8c4", "#88e8a8", "#dfe59a", "#e9c589", "#e9a26f", "#e67a51", "#e34a2b"], "interpolate": "rgb"},
       "legend": {"title": null, "orient": "none", "legendX": 705, "legendY": 18, "direction": "vertical", "gradientLength": 148, "gradientThickness": 18, "gradientStrokeWidth": 0, "values": [0, 1, 2, 3, 4, 5, 6, 7, 8], "format": ".2f", "labelFontSize": 11.5, "labelOffset": 3, "labelOverlap": false}
      }
     }
    },
    {
     "width": 223,
     "height": 656,
     "title": {"text": "Disease"},
     "data": {"name": "expr"},
     "transform": [{"fold": ["mock_8h", "mock_24h", "mock_50h", "xam_8h", "xam_24h", "xam_50h"], "as": ["cond", "v"]}],
     "mark": {"type": "rect", "stroke": "#ffffff", "strokeWidth": 1.3},
     "encoding": {
      "x": {"field": "cond", "type": "nominal", "sort": null, "scale": {"paddingInner": 0, "paddingOuter": 0}, "axis": {"labelAngle": -45, "labelAlign": "right", "labelBaseline": "top", "labelFontSize": 17, "labelPadding": 3}},
      "y": {"field": "g", "type": "nominal", "sort": null, "scale": {"paddingInner": 0, "paddingOuter": 0}, "axis": {"orient": "right", "labelFontSize": 11.6, "labelPadding": 5, "labelOverlap": false}},
      "color": {
       "field": "v", "type": "quantitative",
       "scale": {"domain": [0, 1, 2, 3, 4, 5, 6, 7, 8], "range": ["#36aef0", "#40c2d6", "#52d8c4", "#88e8a8", "#dfe59a", "#e9c589", "#e9a26f", "#e67a51", "#e34a2b"], "interpolate": "rgb"},
       "legend": {"title": null, "orient": "none", "legendX": 705, "legendY": 18, "direction": "vertical", "gradientLength": 148, "gradientThickness": 18, "gradientStrokeWidth": 0, "values": [0, 1, 2, 3, 4, 5, 6, 7, 8], "format": ".2f", "labelFontSize": 11.5, "labelOffset": 3, "labelOverlap": false}
      }
     }
    }
   ]
  }
 ]
}
